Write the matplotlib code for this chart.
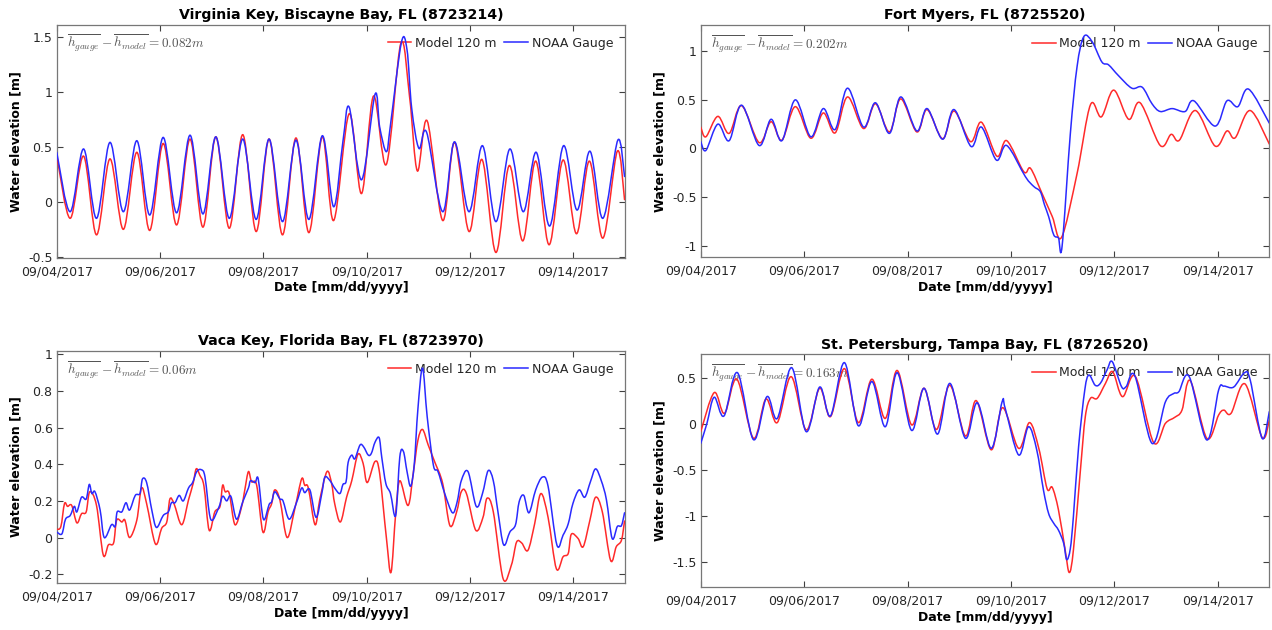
#Niveles de agua durante Irma: modelo vs mareografos NOAA

import matplotlib
matplotlib.use("Agg")
import matplotlib.pyplot as plt
import matplotlib.dates as mdates
from matplotlib.ticker import FuncFormatter
from matplotlib.path import Path
from matplotlib.patches import PathPatch
from matplotlib.lines import Line2D
import numpy as np
from datetime import datetime

plt.rcParams['font.family'] = 'DejaVu Sans'
plt.rcParams['mathtext.fontset'] = 'cm'

#Datos (dias desde 09/04/2017 00:00, elevacion en m)

vk_t_gauge = [0, 0.26, 0.52, 0.77, 1.03, 1.29, 1.55, 1.80, 2.06, 2.32, 2.58, 2.83, 3.08, 3.34,
              3.60, 3.86, 4.11, 4.37, 4.63, 4.88, 5.14, 5.36, 5.54, 5.66, 5.90, 6.16, 6.25, 6.38,
              6.46, 6.67, 6.78, 6.87, 7.01, 7.16, 7.47, 7.70, 7.98, 8.24, 8.50, 8.77, 9.03, 9.28,
              9.54, 9.81, 10.07, 10.32, 10.57, 10.86, 10.99]
vk_gauge = [0.45, -0.09, 0.48, -0.15, 0.54, -0.09, 0.555, -0.12, 0.585, -0.10, 0.605, -0.11, 0.59,
            -0.15, 0.57, -0.16, 0.57, -0.18, 0.56, -0.16, 0.60, -0.045, 0.55, 0.86, 0.20, 0.975,
            0.68, 0.455, 0.70, 1.445, 1.38, 0.85, 0.485, 0.63, -0.09, 0.545, -0.09, 0.51, -0.18,
            0.48, -0.09, 0.45, -0.22, 0.51, -0.075, 0.46, -0.15, 0.56, 0.23]
vk_t_model = [0, 0.26, 0.52, 0.77, 1.03, 1.29, 1.55, 1.80, 2.06, 2.32, 2.58, 2.83, 3.08, 3.34,
              3.60, 3.86, 4.11, 4.37, 4.63, 4.88, 5.14, 5.36, 5.66, 5.90, 6.13, 6.38, 6.66, 6.83,
              6.98, 7.17, 7.47, 7.70, 7.98, 8.23, 8.50, 8.76, 9.02, 9.27, 9.53, 9.80, 10.06, 10.31,
              10.57, 10.85, 10.99]
vk_model = [0.42, -0.15, 0.415, -0.30, 0.39, -0.25, 0.45, -0.26, 0.53, -0.21, 0.57, -0.23, 0.59,
            -0.24, 0.61, -0.27, 0.57, -0.30, 0.58, -0.28, 0.59, -0.17, 0.80, 0.075, 0.96, 0.34,
            1.44, 0.95, 0.28, 0.735, -0.17, 0.54, -0.27, 0.385, -0.46, 0.33, -0.355, 0.37, -0.39,
            0.38, -0.29, 0.37, -0.33, 0.46, 0.02]

fm_t_gauge = [0, 0.10, 0.33, 0.55, 0.79, 1.13, 1.36, 1.57, 1.83, 2.13, 2.37, 2.60, 2.84, 3.15,
              3.38, 3.65, 3.87, 4.18, 4.38, 4.68, 4.90, 5.23, 5.43, 5.72, 5.92, 6.28, 6.44, 6.57,
              6.65, 6.73, 6.83, 6.92, 6.99, 7.15, 7.28, 7.41, 7.57, 7.76, 7.89, 8.08, 8.34, 8.54,
              8.73, 8.89, 9.12, 9.37, 9.54, 9.95, 10.18, 10.39, 10.60, 11.0]
fm_gauge = [0.07, -0.02, 0.25, 0.08, 0.445, 0.03, 0.30, 0.08, 0.50, 0.12, 0.41, 0.195, 0.62, 0.22,
            0.47, 0.155, 0.53, 0.18, 0.41, 0.095, 0.40, 0.02, 0.22, -0.12, 0.03, -0.29, -0.39,
            -0.445, -0.58, -0.70, -0.89, -0.92, -1.01, 0.15, 0.84, 1.15, 1.10, 0.89, 0.86, 0.75,
            0.62, 0.63, 0.46, 0.38, 0.41, 0.38, 0.49, 0.23, 0.49, 0.43, 0.61, 0.26]
fm_t_model = [0, 0.10, 0.33, 0.55, 0.79, 1.13, 1.36, 1.57, 1.83, 2.13, 2.37, 2.60, 2.84, 3.15,
              3.38, 3.65, 3.87, 4.18, 4.38, 4.68, 4.90, 5.22, 5.43, 5.73, 5.92, 6.25, 6.38, 6.60,
              6.80, 6.98, 7.28, 7.54, 7.75, 7.99, 8.28, 8.50, 8.89, 9.10, 9.26, 9.57, 9.95, 10.18,
              10.34, 10.63, 11.0]
fm_model = [0.22, 0.12, 0.33, 0.155, 0.44, 0.06, 0.275, 0.085, 0.43, 0.105, 0.365, 0.16, 0.53,
            0.205, 0.46, 0.17, 0.51, 0.17, 0.40, 0.10, 0.385, 0.07, 0.27, -0.08, 0.08, -0.24,
            -0.205, -0.46, -0.70, -0.915, -0.26, 0.45, 0.325, 0.60, 0.30, 0.47, 0.03, 0.145,
            0.085, 0.39, 0.025, 0.18, 0.11, 0.39, 0.045]

vc_t_gauge = [0, 0.10, 0.17, 0.26, 0.34, 0.39, 0.48, 0.57, 0.63, 0.68, 0.74, 0.84, 0.92, 1.06,
              1.13, 1.17, 1.26, 1.34, 1.41, 1.52, 1.61, 1.66, 1.74, 1.84, 1.93, 2.06, 2.16, 2.22,
              2.29, 2.37, 2.45, 2.55, 2.63, 2.71, 2.80, 2.87, 2.98, 3.13, 3.21, 3.29, 3.37, 3.48,
              3.60, 3.71, 3.75, 3.84, 3.90, 4.00, 4.11, 4.16, 4.22, 4.32, 4.38, 4.50, 4.64, 4.74,
              4.80, 4.90, 5.02, 5.13, 5.19, 5.29, 5.38, 5.48, 5.54, 5.60, 5.64, 5.71, 5.77, 5.87,
              5.94, 6.03, 6.09, 6.16, 6.24, 6.29, 6.37, 6.46, 6.56, 6.64, 6.71, 6.78, 6.85, 6.92,
              6.99, 7.08, 7.17, 7.29, 7.38, 7.51, 7.66, 7.75, 7.83, 7.96, 8.12, 8.24, 8.35, 8.45,
              8.54, 8.65, 8.77, 8.88, 8.95, 9.04, 9.14, 9.27, 9.40, 9.51, 9.68, 9.80, 9.90, 9.99,
              10.11, 10.22, 10.33, 10.43, 10.54, 10.64, 10.75, 10.85, 10.93, 10.99]
vc_gauge = [0.03, 0.02, 0.10, 0.12, 0.17, 0.14, 0.22, 0.21, 0.29, 0.24, 0.25, 0.15, 0.00, 0.07,
            0.06, 0.14, 0.14, 0.19, 0.15, 0.23, 0.24, 0.32, 0.30, 0.15, 0.055, 0.12, 0.14, 0.19,
            0.19, 0.23, 0.20, 0.27, 0.30, 0.36, 0.37, 0.33, 0.10, 0.16, 0.225, 0.20, 0.225, 0.10,
            0.195, 0.27, 0.31, 0.30, 0.32, 0.10, 0.18, 0.195, 0.25, 0.21, 0.20, 0.10, 0.19, 0.27,
            0.245, 0.26, 0.11, 0.24, 0.33, 0.31, 0.27, 0.24, 0.29, 0.305, 0.41, 0.45, 0.43, 0.505,
            0.495, 0.45, 0.46, 0.52, 0.545, 0.44, 0.295, 0.24, 0.12, 0.44, 0.47, 0.36, 0.28, 0.40,
            0.70, 0.925, 0.66, 0.395, 0.36, 0.24, 0.135, 0.195, 0.31, 0.36, 0.17, 0.24, 0.365,
            0.31, 0.14, -0.04, 0.03, 0.07, 0.195, 0.23, 0.135, 0.26, 0.33, 0.28, -0.04, 0.013,
            0.075, 0.185, 0.26, 0.22, 0.305, 0.375, 0.31, 0.205, -0.005, 0.06, 0.065, 0.135]
vc_t_model = [0, 0.08, 0.15, 0.21, 0.29, 0.39, 0.48, 0.57, 0.64, 0.77, 0.90, 1.00, 1.10, 1.16,
              1.26, 1.32, 1.41, 1.55, 1.64, 1.74, 1.91, 2.03, 2.13, 2.19, 2.27, 2.42, 2.55, 2.64,
              2.70, 2.77, 2.85, 2.95, 3.06, 3.16, 3.21, 3.26, 3.34, 3.45, 3.58, 3.64, 3.71, 3.77,
              3.87, 3.99, 4.09, 4.16, 4.22, 4.32, 4.46, 4.61, 4.74, 4.80, 4.87, 5.00, 5.09, 5.23,
              5.32, 5.38, 5.49, 5.61, 5.71, 5.83, 5.93, 6.01, 6.16, 6.25, 6.38, 6.47, 6.56, 6.64,
              6.80, 6.90, 6.99, 7.08, 7.19, 7.32, 7.47, 7.61, 7.74, 7.83, 7.93, 8.11, 8.25, 8.33,
              8.45, 8.64, 8.80, 8.90, 9.00, 9.12, 9.25, 9.37, 9.51, 9.67, 9.80, 9.90, 9.96, 10.09,
              10.19, 10.32, 10.43, 10.56, 10.72, 10.83, 10.93, 10.99]
vc_model = [0.045, 0.06, 0.185, 0.17, 0.175, 0.08, 0.13, 0.14, 0.25, 0.175, -0.095, -0.04, -0.03,
            0.095, 0.085, 0.095, 0.00, 0.095, 0.27, 0.185, -0.035, 0.05, 0.085, 0.21, 0.185, 0.07,
            0.205, 0.295, 0.375, 0.34, 0.28, 0.04, 0.14, 0.17, 0.285, 0.25, 0.24, 0.07, 0.17, 0.26,
            0.36, 0.305, 0.285, 0.03, 0.14, 0.185, 0.26, 0.205, 0.00, 0.16, 0.32, 0.285, 0.27,
            0.07, 0.205, 0.36, 0.295, 0.185, 0.085, 0.22, 0.31, 0.455, 0.405, 0.30, 0.415, 0.35,
            0.00, -0.19, 0.13, 0.31, 0.175, 0.35, 0.53, 0.59, 0.505, 0.41, 0.295, 0.065, 0.14,
            0.25, 0.24, 0.04, 0.11, 0.215, 0.14, -0.225, -0.15, -0.025, -0.03, -0.07, 0.075, 0.24,
            0.11, -0.17, -0.105, -0.087, 0.018, -0.005, -0.05, 0.095, 0.22, 0.14, -0.125, -0.05,
            -0.015, 0.09]

sp_t_gauge = [0, 0.12, 0.26, 0.45, 0.71, 1.02, 1.28, 1.48, 1.76, 2.04, 2.30, 2.51, 2.78, 3.05,
              3.31, 3.57, 3.80, 4.08, 4.32, 4.58, 4.82, 5.12, 5.35, 5.62, 5.83, 5.89, 6.15, 6.34,
              6.50, 6.63, 6.73, 6.83, 6.92, 7.02, 7.08, 7.15, 7.21, 7.31, 7.43, 7.51, 7.63, 7.73,
              7.86, 7.96, 8.14, 8.23, 8.40, 8.73, 8.99, 9.15, 9.25, 9.45, 9.79, 10.02, 10.12, 10.31,
              10.52, 10.63, 10.86, 11.0]
sp_gauge = [-0.21, 0.007, 0.29, 0.087, 0.556, -0.17, 0.296, 0.06, 0.61, -0.083, 0.40, 0.087,
            0.665, -0.02, 0.46, -0.03, 0.556, -0.07, 0.387, -0.11, 0.44, -0.155, 0.23, -0.264,
            0.24, 0.17, -0.336, -0.03, -0.28, -0.716, -0.97, -1.077, -1.15, -1.29, -1.47, -1.35,
            -1.0, -0.246, 0.37, 0.53, 0.42, 0.44, 0.585, 0.676, 0.405, 0.405, 0.52, -0.21, 0.24,
            0.33, 0.35, 0.513, -0.173, 0.37, 0.41, 0.40, 0.556, 0.477, -0.155, 0.134]
sp_t_model = [0, 0.26, 0.46, 0.70, 1.02, 1.26, 1.48, 1.75, 2.04, 2.30, 2.51, 2.78, 3.05, 3.31,
              3.57, 3.80, 4.08, 4.32, 4.56, 4.82, 5.12, 5.33, 5.62, 5.84, 6.15, 6.36, 6.54, 6.70,
              6.80, 6.92, 7.05, 7.13, 7.21, 7.34, 7.44, 7.54, 7.67, 7.83, 7.97, 8.16, 8.41, 8.76,
              8.99, 9.17, 9.31, 9.47, 9.79, 10.02, 10.12, 10.26, 10.53, 10.86, 11.0]
sp_model = [-0.083, 0.34, 0.115, 0.485, -0.155, 0.27, 0.015, 0.513, -0.065, 0.387, 0.08, 0.60,
            0.015, 0.485, 0.06, 0.58, -0.01, 0.387, -0.06, 0.42, -0.13, 0.253, -0.28, 0.177,
            -0.264, 0.015, -0.264, -0.70, -0.687, -0.93, -1.366, -1.61, -1.366, -0.535, 0.08,
            0.278, 0.278, 0.44, 0.567, 0.296, 0.513, -0.20, 0.007, 0.072, 0.15, 0.47, -0.155,
            0.098, 0.15, 0.116, 0.434, -0.145, 0.043]

titles = ["Virginia Key, Biscayne Bay, FL (8723214)", "Fort Myers, FL (8725520)",
          "Vaca Key, Florida Bay, FL (8723970)", "St. Petersburg, Tampa Bay, FL (8726520)"]
offsets = ["0.082", "0.202", "0.06", "0.163"]
ylims = [(-0.51, 1.61), (-1.12, 1.27), (-0.25, 1.02), (-1.77, 0.755)]
yticks = [[-0.5, 0, 0.5, 1, 1.5], [-1, -0.5, 0, 0.5, 1],
          [-0.2, 0, 0.2, 0.4, 0.6, 0.8, 1], [-1.5, -1, -0.5, 0, 0.5]]
series = [(vk_t_model, vk_model, vk_t_gauge, vk_gauge),
          (fm_t_model, fm_model, fm_t_gauge, fm_gauge),
          (vc_t_model, vc_model, vc_t_gauge, vc_gauge),
          (sp_t_model, sp_model, sp_t_gauge, sp_gauge)]

#Posiciones de los ejes [left, bottom, width, height]
boxes = [[0.0446, 0.5905, 0.4468, 0.3706], [0.5509, 0.5916, 0.4470, 0.3687],
         [0.0446, 0.0741, 0.4468, 0.3692], [0.5509, 0.0678, 0.4470, 0.3698]]

t0 = mdates.date2num(datetime(2017, 9, 4))
c_model = '#ff2a2a'; c_gauge = '#2a2aff'
gray = '#404040'


def curva(ax, t, h, color):
    #linea suavizada (Bezier tipo Catmull-Rom) que pasa por los puntos leidos
    p = np.column_stack([t0 + np.array(t), np.array(h)])
    verts = [p[0]]; codes = [Path.MOVETO]
    for k in range(len(p) - 1):
        a = p[k - 1] if k > 0 else p[k]
        d = p[k + 2] if k + 2 < len(p) else p[k + 1]
        verts += [p[k] + (p[k + 1] - a) / 6, p[k + 1] - (d - p[k]) / 6, p[k + 1]]
        codes += [Path.CURVE4] * 3
    ax.add_patch(PathPatch(Path(verts, codes), facecolor='none', edgecolor=color,
                           lw=1.1, zorder=3, capstyle='round', joinstyle='round'))


fig = plt.figure(figsize=(12.72, 6.30), dpi=100)

for i in range(4):
    ax = fig.add_axes(boxes[i])
    tm, hm, tg, hg = series[i]
    curva(ax, tm, hm, c_model)
    curva(ax, tg, hg, c_gauge)

    ax.set_xlim(t0, t0 + 11)
    ax.set_ylim(*ylims[i])
    ax.set_xticks(t0 + np.arange(0, 11, 2))
    ax.xaxis.set_major_formatter(mdates.DateFormatter('%m/%d/%Y'))
    ax.set_yticks(yticks[i])
    ax.yaxis.set_major_formatter(FuncFormatter(lambda v, p: '%g' % v))
    ax.tick_params(direction='in', top=True, right=True, length=4, width=0.8,
                   labelsize=9, colors=gray, labelcolor='#262626')
    ax.tick_params(axis='x', pad=5.5)
    ax.tick_params(axis='y', pad=3)
    for s in ax.spines.values():
        s.set_color('#777777')
        s.set_linewidth(0.9)

    ax.set_title(titles[i], fontsize=10.2, fontweight='bold', pad=4)
    ax.set_xlabel('Date [mm/dd/yyyy]', fontsize=9, fontweight='bold', labelpad=2)
    ax.set_ylabel('Water elevation [m]', fontsize=9, fontweight='bold', labelpad=4)

    ax.text(0.018, 0.92, r'$\overline{h_{gauge}}-\overline{h_{model}}=' + offsets[i] + r'm$',
            transform=ax.transAxes, fontsize=9.5, color='#555555', va='center', zorder=1)
    handles = [Line2D([], [], color=c_model, lw=1.1), Line2D([], [], color=c_gauge, lw=1.1)]
    leg = ax.legend(handles, ['Model 120 m', 'NOAA Gauge'], loc='upper right', ncol=2,
                    frameon=False, fontsize=9, handlelength=1.9, columnspacing=0.6,
                    handletextpad=0.3, borderaxespad=0.1, bbox_to_anchor=(0.99, 0.975))
    leg.set_zorder(1)
    for txt in leg.get_texts():
        txt.set_color('#262626')

plt.savefig('out.png', dpi=100)
